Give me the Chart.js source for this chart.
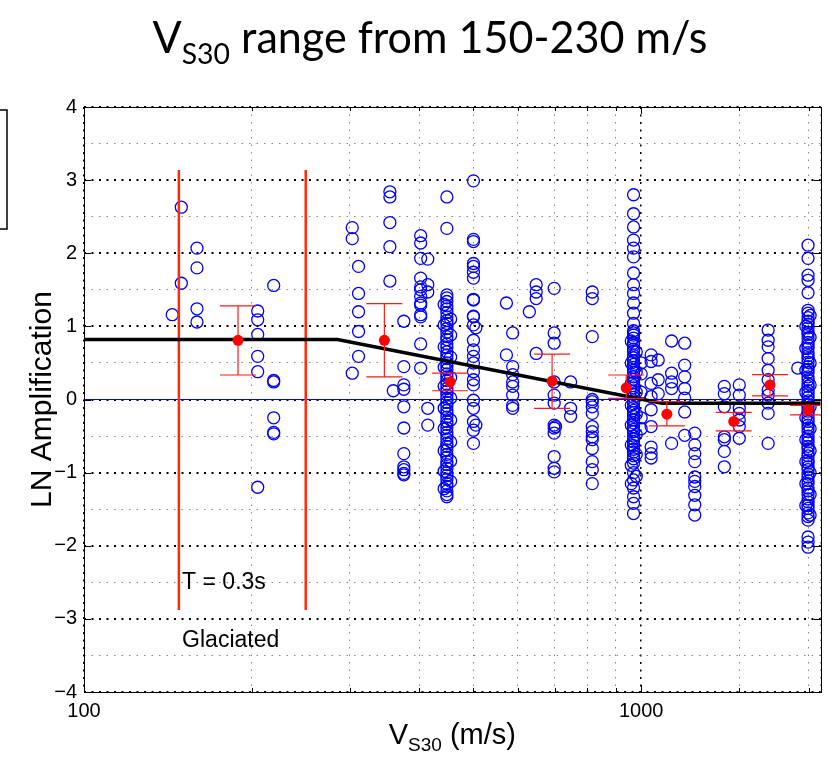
<!DOCTYPE html>
<html>
<head>
<meta charset="utf-8">
<script src="https://cdn.jsdelivr.net/npm/chart.js@4.4.0/dist/chart.umd.min.js"></script>
<style>
  html, body { margin: 0; padding: 0; background: #fff; }
  #wrap { width: 828px; height: 758px; }
</style>
</head>
<body>
<div id="wrap"><canvas id="chart" width="828" height="758"></canvas></div>
<script>
// site data, grouped by Vs30 column
const columnVs30 = [144, 149.5, 159.5, 205, 219, 303, 311, 354, 359, 375, 402, 414, 443, 448, 455,
  500, 505, 573, 588, 630, 648, 698, 702, 747, 817, 960, 969, 980, 1000, 1042, 1073, 1134, 1197,
  1248, 1410, 1500, 1690, 1910, 1975, 1993, 2010];
const columnAmp = [
  [1.16],
  [2.63, 1.59],
  [2.07, 1.80, 1.24, 1.06],
  [1.21, 1.09, 0.89, 0.59, 0.38, -1.20],
  [1.56, 0.24, 0.26, -0.25, -0.47, -0.45],
  [2.35, 2.20, 0.36],
  [1.82, 1.45, 1.20, 0.93, 0.59],
  [2.84, 2.77, 2.42, 2.09, 1.62],
  [0.12],
  [1.07, 0.45, 0.20, 0.14, -0.10, -0.39, -0.74, -0.92, -0.96, -1.01, -1.03],
  [2.24, 2.14, 1.93, 1.66, 1.54, 1.50, 1.41, 1.32, 1.29, 1.16, 1.13, 0.76, 0.43],
  [1.92, 1.57, 1.47, -0.12, -0.35],
  [1.30, 1.02, 0.72, 0.44, 0.18, -0.12, -0.40, -0.70, -0.98, -1.22],
  [2.77, 2.34, 1.43, 1.39, 1.34, 1.28, 1.24, 1.19, 1.13, 1.08, 1.04, 0.97, 0.92, 0.86, 0.82,
   0.76, 0.71, 0.65, 0.61, 0.56, 0.50, 0.46, 0.41, 0.35, 0.31, 0.26, 0.21, 0.15, 0.11, 0.06,
   0.01, -0.04, -0.09, -0.15, -0.19, -0.24, -0.30, -0.34, -0.39, -0.45, -0.49, -0.54, -0.60,
   -0.64, -0.69, -0.75, -0.79, -0.85, -0.89, -0.94, -1.00, -1.04, -1.09, -1.15, -1.19, -1.25,
   -1.30, -1.33],
  [1.10, 0.88, 0.58, 0.30, 0.02, -0.28, -0.58, -0.84, -1.12],
  [2.99, 2.19, 2.16, 1.86, 1.82, 1.74, 1.66, 1.37, 1.36, 1.14, 1.13, 1.02, 0.81, 0.68, 0.59,
   0.50, 0.38, 0.27, 0.20, -0.01, -0.12, -0.30, -0.42, -0.60],
  [0.98, -0.35],
  [1.32, 0.61],
  [0.91, 0.45, 0.34, 0.24, 0.18, 0.06, -0.08, -0.12],
  [1.20],
  [1.57, 1.47, 1.38, 0.63],
  [1.52, 0.91, 0.77, 0.24, 0.06, -0.05, -0.35, -0.39, -0.46, -0.78, -0.94, -0.99],
  [-0.37],
  [0.24, -0.12, -0.23],
  [1.47, 1.38, 0.86, 0.00, -0.03, -0.10, -0.19, -0.37, -0.44, -0.51, -0.55, -0.67, -0.85,
   -0.96, -1.15],
  [0.80, 0.50, 0.22, -0.08, -0.35, -0.62, -0.90, -1.15],
  [2.80, 2.54, 2.36, 2.18, 2.07, 1.95, 1.73, 1.57, 1.45, 1.32, 1.18, 1.04, 0.94, 0.91, 0.88,
   0.84, 0.77, 0.74, 0.69, 0.66, 0.60, 0.57, 0.53, 0.48, 0.44, 0.40, 0.37, 0.31, 0.28, 0.23,
   0.19, 0.16, 0.11, 0.07, 0.03, -0.02, -0.06, -0.11, -0.15, -0.18, -0.23, -0.28, -0.32,
   -0.37, -0.41, -0.44, -0.50, -0.54, -0.58, -0.63, -0.68, -0.72, -0.77, -0.81, -0.87, -1.00,
   -1.10, -1.21, -1.33, -1.42, -1.56],
  [0.65, 0.38, 0.10, -0.20, -0.48, -0.75, -1.05],
  [0.50, 0.35, 0.10, -0.25, -0.40],
  [0.61, 0.52, 0.22, 0.04, -0.14, -0.37, -0.65, -0.74, -0.80],
  [0.54, 0.27, 0.08],
  [0.80, 0.36, 0.24, 0.15, -0.60],
  [0.77, 0.47, 0.31, 0.15, 0.02, -0.17, -0.49],
  [-0.46, -0.62, -0.74, -0.85, -1.06, -1.12, -1.19, -1.31, -1.44, -1.58],
  [0.18, 0.08, -0.10, -0.51, -0.55, -0.71, -0.92],
  [0.20, 0.06, -0.12, -0.19, -0.28, -0.37, -0.53],
  [0.95, 0.81, 0.72, 0.56, 0.40, 0.27, 0.13, 0.06, -0.05, -0.19, -0.60],
  [0.43],
  [1.00, 0.70, 0.40, 0.10, -0.25, -0.55, -0.85, -1.15, -1.45],
  [2.11, 1.93, 1.70, 1.63, 1.46, 1.22, 1.18, 1.12, 1.07, 1.03, 0.98, 0.92, 0.89, 0.84, 0.78,
   0.74, 0.70, 0.64, 0.60, 0.56, 0.51, 0.45, 0.41, 0.37, 0.31, 0.27, 0.22, 0.18, 0.12, 0.08,
   0.03, -0.02, -0.07, -0.11, -0.16, -0.20, -0.26, -0.30, -0.35, -0.39, -0.44, -0.50, -0.54,
   -0.58, -0.64, -0.68, -0.73, -0.77, -0.83, -0.87, -0.92, -0.96, -1.02, -1.06, -1.11, -1.15,
   -1.21, -1.25, -1.30, -1.36, -1.40, -1.45, -1.49, -1.55, -1.60, -1.65, -1.88, -1.95, -2.02],
  [1.15, 0.85, 0.50, 0.20, -0.10, -0.40, -0.70, -1.00, -1.30, -1.58]
];

// binned means with error bars
const meanVs30 = [189, 346, 454, 692, 940, 1112, 1466, 1703, 1993];
const meanAmp = [0.81, 0.81, 0.24, 0.25, 0.16, -0.20, -0.30, 0.20, -0.14];
const errUpper = [1.28, 1.31, 0.36, 0.62, 0.335, -0.03, -0.175, 0.34, -0.08];
const errLower = [0.335, 0.31, 0.12, -0.12, 0.016, -0.36, -0.43, 0.05, -0.21];

// model curve
const modelVs30 = [100, 285, 1090, 2100];
const modelAmp = [0.82, 0.82, -0.05, -0.05];

// glaciated Vs30 bounds
const glacialVs30 = [148, 250];
const glacialAmp = [-2.88, 3.14];

const noteLabels = ['T = 0.3s', 'Glaciated'];
const noteVs30 = [150, 150];
const noteAmp = [-2.5, -3.3];

const xMin = 100, xMax = 2100, yMin = -4, yMax = 4;

const circles = [];
columnVs30.forEach((v, i) => columnAmp[i].forEach(a => circles.push({x: v, y: a})));

const isMajorX = v => v === 100 || v === 1000;
const minus = s => String(s).replace('-', '\u2212');

const decor = {
  id: 'decor',
  beforeDatasetDraw(chart, args) {
    if (args.index !== 0) return;
    const {ctx, chartArea: a, scales: {x, y}} = chart;
    ctx.save();
    ctx.beginPath();
    ctx.rect(a.left, a.top, a.right - a.left, a.bottom - a.top);
    ctx.clip();
    ctx.strokeStyle = '#ff1a1a';
    ctx.lineWidth = 1.2;
    meanVs30.forEach((v, i) => {
      const px = x.getPixelForValue(v);
      const t = y.getPixelForValue(errUpper[i]);
      const b = y.getPixelForValue(errLower[i]);
      ctx.beginPath();
      ctx.moveTo(px, t); ctx.lineTo(px, b);
      ctx.moveTo(px - 18, t); ctx.lineTo(px + 18, t);
      ctx.moveTo(px - 18, b); ctx.lineTo(px + 18, b);
      ctx.stroke();
    });
    ctx.restore();
  },
  afterDraw(chart) {
    const {ctx, chartArea: a, scales: {x, y}} = chart;
    ctx.save();
    // box and inward ticks
    ctx.strokeStyle = '#000';
    ctx.lineWidth = 1;
    ctx.strokeRect(Math.round(a.left) + 0.5, Math.round(a.top) + 0.5,
      Math.round(a.right - a.left), Math.round(a.bottom - a.top));
    ctx.beginPath();
    for (let v = yMin; v <= yMax; v++) {
      const py = Math.round(y.getPixelForValue(v)) + 0.5;
      ctx.moveTo(a.left, py); ctx.lineTo(a.left + 7, py);
      ctx.moveTo(a.right, py); ctx.lineTo(a.right - 7, py);
    }
    x.ticks.forEach(t => {
      const px = Math.round(x.getPixelForValue(t.value)) + 0.5;
      const len = isMajorX(t.value) ? 7 : 4;
      ctx.moveTo(px, a.bottom); ctx.lineTo(px, a.bottom - len);
      ctx.moveTo(px, a.top); ctx.lineTo(px, a.top + len);
    });
    ctx.stroke();

    // cropped box on the far left
    ctx.lineWidth = 1.5;
    ctx.strokeRect(-10, 110, 17, 119);

    // annotations
    ctx.fillStyle = '#000';
    ctx.font = '23px "Liberation Sans", Arial, sans-serif';
    ctx.textBaseline = 'middle';
    ctx.textAlign = 'left';
    noteLabels.forEach((s, i) => {
      ctx.fillText(s, x.getPixelForValue(noteVs30[i]), y.getPixelForValue(noteAmp[i]));
    });

    // y axis title
    ctx.save();
    ctx.translate(51, (a.top + a.bottom) / 2);
    ctx.rotate(-Math.PI / 2);
    ctx.textAlign = 'center';
    ctx.textBaseline = 'alphabetic';
    ctx.font = '30px "Liberation Sans", Arial, sans-serif';
    ctx.fillText('LN Amplification', 0, 0);
    ctx.restore();

    // x axis title with subscript
    drawSub(ctx, (a.left + a.right) / 2, 744, '"Liberation Sans", Arial, sans-serif', 29, 'V', 'S30', ' (m/s)', 7, 1);
    // chart title
    drawSub(ctx, 430, 53, 'Lato, "Open Sans", sans-serif', 44, 'V', 'S30', ' range from 150-230 m/s', 11, null, 555);
    ctx.restore();
  }
};

function drawSub(ctx, cx, base, family, size, main, sub, rest, drop, sx, targetW) {
  const big = size + 'px ' + family;
  const small = Math.round(size * 0.65) + 'px ' + family;
  ctx.font = big;
  const w1 = ctx.measureText(main).width;
  const w3 = ctx.measureText(rest).width;
  ctx.font = small;
  const w2 = ctx.measureText(sub).width;
  const total = w1 + w2 + w3;
  const scale = targetW ? targetW / total : (sx || 1);
  ctx.save();
  ctx.translate(cx - total * scale / 2, base);
  ctx.scale(scale, 1);
  ctx.textAlign = 'left';
  ctx.textBaseline = 'alphabetic';
  ctx.fillStyle = '#000';
  ctx.font = big;
  ctx.fillText(main, 0, 0);
  ctx.font = small;
  ctx.fillText(sub, w1, drop);
  ctx.font = big;
  ctx.fillText(rest, w1 + w2, 0);
  ctx.restore();
}

new Chart(document.getElementById('chart'), {
  type: 'scatter',
  data: {
    datasets: [
      {
        label: 'Mean',
        data: meanVs30.map((v, i) => ({x: v, y: meanAmp[i]})),
        pointRadius: 5.5,
        pointBackgroundColor: '#ff0000',
        pointBorderWidth: 0
      },
      {
        label: 'Model',
        data: modelVs30.map((v, i) => ({x: v, y: modelAmp[i]})),
        showLine: true,
        borderColor: '#000',
        borderWidth: 3.5,
        pointRadius: 0
      },
      {
        label: 'Glaciated lower',
        data: glacialAmp.map(a => ({x: glacialVs30[0], y: a})),
        showLine: true,
        borderColor: '#ff2a0a',
        borderWidth: 2.5,
        pointRadius: 0
      },
      {
        label: 'Glaciated upper',
        data: glacialAmp.map(a => ({x: glacialVs30[1], y: a})),
        showLine: true,
        borderColor: '#ff2a0a',
        borderWidth: 2.5,
        pointRadius: 0
      },
      {
        label: 'Sites',
        data: circles,
        pointRadius: 6,
        pointBackgroundColor: 'rgba(0,0,0,0)',
        pointBorderColor: '#0000ff',
        pointBorderWidth: 1.3
      },
      {
        label: 'Zero',
        data: [{x: xMin, y: 0}, {x: xMax, y: 0}],
        showLine: true,
        borderColor: '#0000ff',
        borderWidth: 1,
        pointRadius: 0
      }
    ]
  },
  options: {
    responsive: false,
    animation: false,
    devicePixelRatio: 1,
    layout: { padding: { left: 0, top: 107, right: 1.5, bottom: 0 } },
    plugins: {
      legend: { display: false },
      tooltip: { enabled: false },
      title: { display: false }
    },
    scales: {
      x: {
        type: 'logarithmic',
        position: 'bottom',
        min: xMin,
        max: xMax,
        afterFit: s => { s.height = 66; },
        grid: {
          drawTicks: false,
          color: c => (c.tick && isMajorX(c.tick.value)) ? '#000' : '#888',
          lineWidth: c => (c.tick && isMajorX(c.tick.value)) ? 1.5 : 1
        },
        border: {
          display: false,
          dash: c => (c.tick && isMajorX(c.tick.value)) ? [2, 5.5] : [1.5, 6]
        },
        ticks: {
          autoSkip: false,
          maxRotation: 0,
          padding: 7,
          color: '#000',
          font: { family: '"Liberation Sans", Arial, sans-serif', size: 20 },
          callback: v => isMajorX(v) ? String(v) : ''
        }
      },
      y: {
        min: yMin,
        max: yMax,
        afterFit: s => { s.width = 84; },
        grid: {
          drawTicks: false,
          color: c => (c.tick && Number.isInteger(c.tick.value)) ? '#000' : '#888',
          lineWidth: c => (c.tick && Number.isInteger(c.tick.value)) ? 2 : 1
        },
        border: {
          display: false,
          dash: c => (c.tick && Number.isInteger(c.tick.value)) ? [2, 5.5] : [1.5, 6]
        },
        ticks: {
          stepSize: 0.5,
          autoSkip: false,
          padding: 7,
          color: '#000',
          font: { family: '"Liberation Sans", Arial, sans-serif', size: 20 },
          callback: v => Number.isInteger(v) ? minus(v) : ''
        }
      }
    }
  },
  plugins: [decor]
});
</script>
</body>
</html>
